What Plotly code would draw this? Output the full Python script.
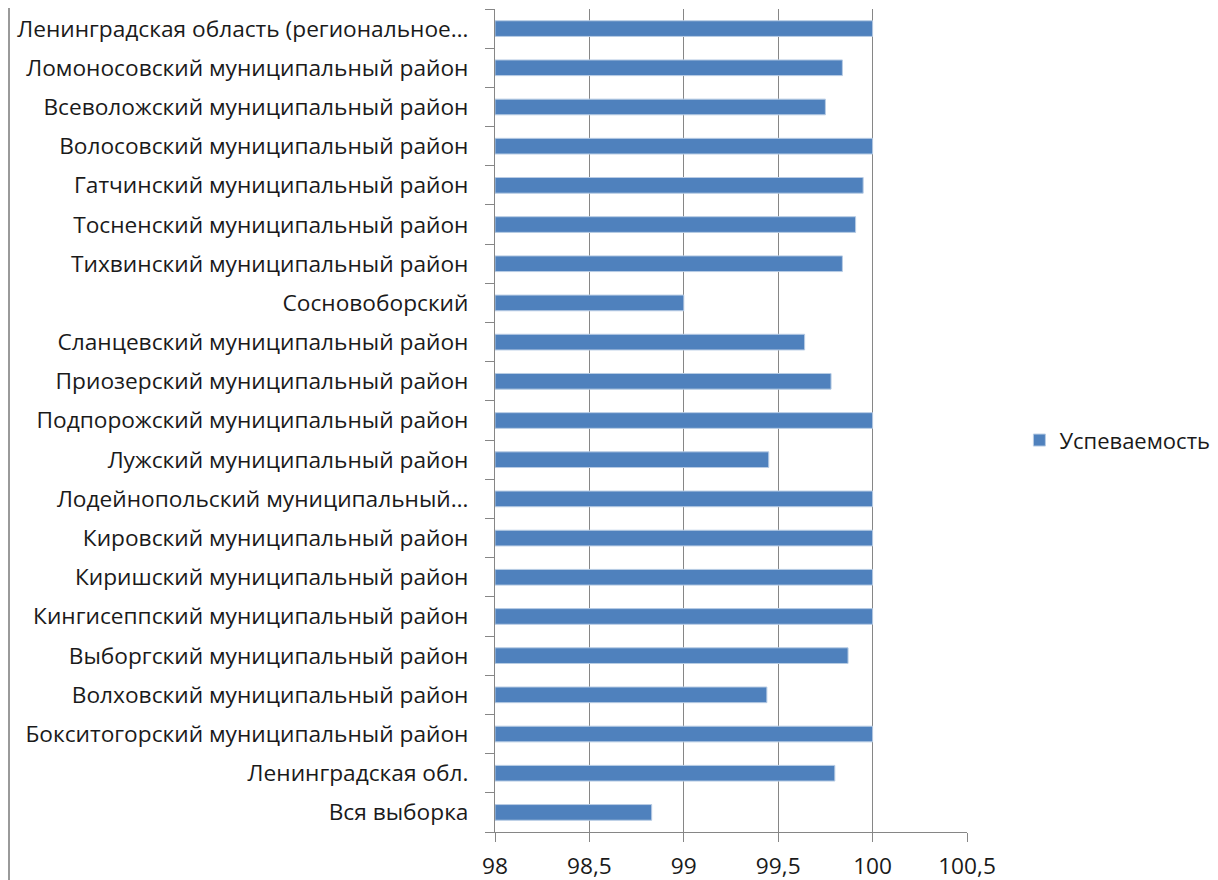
import plotly.graph_objects as go

categories = [
    "Вся выборка",
    "Ленинградская обл.",
    "Бокситогорский муниципальный район",
    "Волховский муниципальный район",
    "Выборгский муниципальный район",
    "Кингисеппский муниципальный район",
    "Киришский муниципальный район",
    "Кировский муниципальный район",
    "Лодейнопольский муниципальный…",
    "Лужский муниципальный район",
    "Подпорожский муниципальный район",
    "Приозерский муниципальный район",
    "Сланцевский муниципальный район",
    "Сосновоборский",
    "Тихвинский муниципальный район",
    "Тосненский муниципальный район",
    "Гатчинский муниципальный район",
    "Волосовский муниципальный район",
    "Всеволожский муниципальный район",
    "Ломоносовский муниципальный район",
    "Ленинградская область (региональное…",
]
values = [98.83, 99.80, 100, 99.44, 99.87, 100, 100, 100, 100, 99.45, 100,
          99.78, 99.64, 99.0, 99.84, 99.91, 99.95, 100, 99.75, 99.84, 100]
series_name = "Успеваемость"
axis_base = 98
x_ticks = [98, 98.5, 99, 99.5, 100, 100.5]
x_tick_labels = ["98", "98,5", "99", "99,5", "100", "100,5"]

FONT = "Open Sans"
FS = 22.7
GRID = "#868686"

# page offset of 8px (body margin) compensated in margins
L, R, T, B = 487, 259, 1, 56
PW = 1218 - L - R
PH = 880 - T - B

fig = go.Figure(go.Bar(
    y=categories, x=[v - axis_base for v in values], base=axis_base,
    orientation="h", name=series_name,
    marker=dict(color="#4F81BD", line=dict(color="#B8CCE4", width=1)),
    showlegend=True,
))

fig.update_layout(
    width=1218, height=880,
    margin=dict(l=L, r=R, t=T, b=B, autoexpand=False),
    paper_bgcolor="white", plot_bgcolor="white",
    bargap=0.6,
    font=dict(family=FONT, size=FS, color="#1a1a1a"),
    showlegend=True,
    legend=dict(x=1.111, y=0.476, xanchor="left", yanchor="middle",
                font=dict(family=FONT, size=FS - 0.7), itemwidth=30,
                bgcolor="rgba(0,0,0,0)"),
    xaxis=dict(range=[98, 100.5], tickvals=x_ticks, ticktext=x_tick_labels,
               showgrid=True, gridcolor=GRID, gridwidth=1,
               showline=True, linecolor=GRID, linewidth=1,
               ticks="outside", ticklen=9, tickcolor=GRID,
               ticklabelstandoff=5,
               zeroline=False, fixedrange=True,
               tickfont=dict(family=FONT, size=FS)),
    yaxis=dict(type="category", categoryorder="array", categoryarray=categories,
               showline=True, linecolor=GRID, linewidth=1,
               ticks="outside", ticklen=9, tickcolor=GRID,
               tickson="boundaries", showgrid=False,
               ticklabelstandoff=21,
               tickfont=dict(family=FONT, size=FS)),
    shapes=[dict(type="line", xref="paper", yref="paper",
                 x0=(1 - L) / PW, x1=(1 - L) / PW,
                 y0=-B / PH, y1=(PH + T) / PH,
                 line=dict(color="#9a9a9a", width=2))],
)

fig.write_html("out.html")
